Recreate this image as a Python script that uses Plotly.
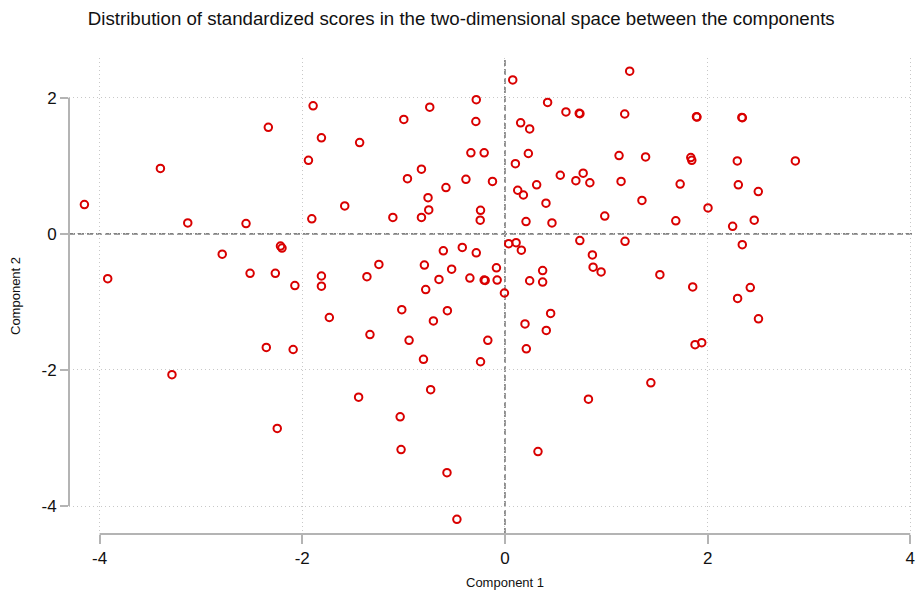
import plotly.graph_objects as go

component1 = [
    -4.15, -3.40, -2.335, -3.13, -2.555, -2.79, -2.215, -2.20, -3.92, -2.515, -2.266,
    -1.893, -0.742, -0.283, -0.998, -0.287, -1.811, -1.434, -1.939, -0.336, -0.205,
    -0.824, -0.962, -0.385, -0.123, -0.582, -0.759, -1.581, -0.752, -0.241, -1.906,
    -1.106, -0.824, -0.244, -0.608, -0.421, -0.283, 0.037, 0.11, -1.244, -0.795,
    -0.526, -0.084, -1.811, -1.811, -1.362, -0.651, -0.346, -0.205, -0.195, -0.077,
    -2.073, -0.782, -0.005,
    0.077, 1.231, 0.421, 0.602, 0.733, 0.74, 1.182, 1.89, 1.895, 0.155, 0.244,
    0.231, 0.103, 1.126, 1.388, 1.834, 1.844, 0.546, 0.772, 0.70, 0.838, 1.146,
    1.729, 0.313, 0.126, 0.182, 0.405, 1.352, 2.004, 0.985, 0.208, 0.464, 1.686,
    0.162, 0.739, 1.185, 0.863, 0.870, 0.949, 0.372, 0.244, 0.372, 1.529, 1.853,
    2.338, 2.343, 2.293, 2.866, 2.303, 2.50, 2.46, 2.247, 2.342, 2.421, 2.296,
    -2.355, -3.286, -2.247, -2.09, -1.733, -1.018, -0.568, -0.706, -1.332, -0.946,
    -0.169, -0.804, -0.241, -0.733, -1.444, -1.034, -1.025, -0.572, -0.474,
    0.451, 0.198, 0.408, 0.211, 1.876, 1.942, 1.440, 0.824, 0.326, 2.502,
]
component2 = [
    0.43, 0.96, 1.565, 0.16, 0.15, -0.30, -0.18, -0.21, -0.66, -0.58, -0.58,
    1.88, 1.86, 1.97, 1.68, 1.65, 1.41, 1.34, 1.08, 1.19, 1.19,
    0.95, 0.81, 0.80, 0.77, 0.68, 0.53, 0.41, 0.35, 0.345, 0.22,
    0.24, 0.24, 0.20, -0.25, -0.20, -0.28, -0.145, -0.13, -0.45, -0.46,
    -0.52, -0.50, -0.62, -0.77, -0.63, -0.67, -0.65, -0.68, -0.685, -0.68,
    -0.76, -0.82, -0.87,
    2.26, 2.39, 1.93, 1.79, 1.77, 1.765, 1.76, 1.72, 1.715, 1.63, 1.54,
    1.18, 1.03, 1.15, 1.13, 1.12, 1.08, 0.86, 0.89, 0.78, 0.75, 0.77,
    0.73, 0.72, 0.64, 0.57, 0.45, 0.49, 0.38, 0.26, 0.18, 0.16, 0.19,
    -0.24, -0.10, -0.11, -0.31, -0.49, -0.56, -0.54, -0.69, -0.71, -0.60, -0.78,
    1.71, 1.705, 1.07, 1.07, 0.72, 0.62, 0.20, 0.11, -0.16, -0.79, -0.95,
    -1.67, -2.07, -2.86, -1.70, -1.23, -1.115, -1.13, -1.28, -1.48, -1.565,
    -1.565, -1.845, -1.88, -2.29, -2.40, -2.69, -3.17, -3.51, -4.195,
    -1.17, -1.325, -1.42, -1.69, -1.63, -1.60, -2.19, -2.43, -3.20, -1.25,
]

x_ticks = [-4, -2, 0, 2, 4]
x_tick_labels = ["-4", "-2", "0", "2", "4"]
y_ticks = [-4, -2, 0, 2]
y_tick_labels = ["-4", "-2", "0", "2"]

title_text = "Distribution of standardized scores in the two-dimensional space between the components"
x_title = "Component 1"
y_title = "Component 2"

FONT = "Liberation Sans, Arial, sans-serif"
AXIS_COL = "#b4b4b4"

fig = go.Figure()
fig.add_trace(go.Scatter(
    x=component1, y=component2, mode="markers",
    marker=dict(symbol="circle-open", size=7.5, color="#d90000",
                line=dict(width=2, color="#d90000")),
    hoverinfo="x+y", showlegend=False,
))

# reference lines at zero
fig.add_shape(type="line", xref="paper", yref="y", x0=0, x1=1, y0=0, y1=0,
              line=dict(color="#808080", width=1.7, dash="6px,3px"), layer="below")
fig.add_shape(type="line", xref="x", yref="paper", x0=0, x1=0, y0=0, y1=1,
              line=dict(color="#808080", width=1.7, dash="6px,3px"), layer="below")
# axis lines spanning only the tick range
fig.add_shape(type="line", xref="x", yref="paper", x0=min(x_ticks), x1=max(x_ticks), y0=0, y1=0,
              line=dict(color=AXIS_COL, width=2))
fig.add_shape(type="line", xref="paper", yref="y", x0=0, x1=0, y0=min(y_ticks), y1=max(y_ticks),
              line=dict(color=AXIS_COL, width=2))

fig.update_layout(
    width=917, height=592,
    margin=dict(l=69, r=2, t=58, b=58),
    plot_bgcolor="white", paper_bgcolor="white",
    font=dict(family=FONT, color="#111111"),
    title=dict(text=title_text, x=0.503, xanchor="center", y=1 - 18 / 592, yanchor="middle",
               font=dict(size=18.7, family=FONT, color="#111111")),
    xaxis=dict(range=[-4.302, 4.017], tickvals=x_ticks, ticktext=x_tick_labels,
               ticks="outside", ticklen=9, ticklabeloverflow="allow",
               tickcolor=AXIS_COL, tickwidth=2, showline=False, zeroline=False,
               showgrid=True, gridcolor="#c8c8c8", griddash="1px,3px", gridwidth=1,
               tickfont=dict(size=17, family=FONT, color="#111111")),
    yaxis=dict(range=[-4.411, 2.583], tickvals=y_ticks, ticktext=y_tick_labels,
               ticks="outside", ticklen=8,
               tickcolor=AXIS_COL, tickwidth=2, showline=False, zeroline=False,
               showgrid=True, gridcolor="#c8c8c8", griddash="1px,3px", gridwidth=1,
               tickfont=dict(size=17, family=FONT, color="#111111")),
    annotations=[
        dict(text=x_title, xref="x", yref="paper", x=0, y=0, yshift=-48,
             showarrow=False, xanchor="center", yanchor="middle",
             font=dict(size=13, family=FONT, color="#111111")),
        dict(text=y_title, xref="paper", yref="paper", x=0, y=0.5, xshift=-54,
             showarrow=False, textangle=-90, xanchor="center", yanchor="middle",
             font=dict(size=13, family=FONT, color="#111111")),
    ],
)

fig.write_html("out.html", config={"displayModeBar": False},
               post_script="document.body.style.margin='0';document.body.style.padding='0';")
